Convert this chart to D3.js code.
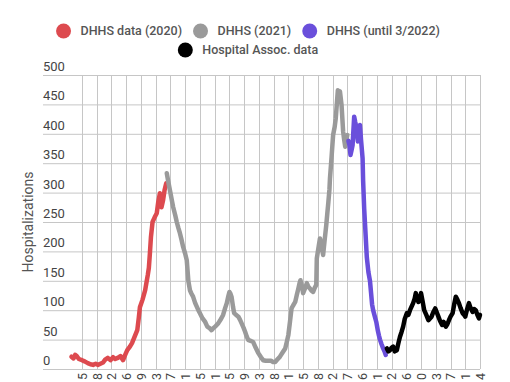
<!DOCTYPE html>
<html>
<head>
<meta charset="utf-8">
<script src="https://cdn.jsdelivr.net/npm/d3@7"></script>
<style>
  html, body { margin: 0; padding: 0; background: #fff; }
  svg { display: block; font-family: Roboto, "Noto Sans", sans-serif; }
</style>
</head>
<body>
<svg id="chart" width="510" height="382"></svg>
<script>
// ---- data (x = day offset from first axis tick, y = hospitalizations) ----
const seriesNames = ["DHHS data (2020)", "DHHS (2021)", "DHHS (until 3/2022)", "Hospital Assoc. data"];
const seriesColors = ["#dd4a4f", "#9a9a9a", "#6a4fdb", "#000000"];

const dhhs2020 = [
  [-20,21],[-16,18],[-13,24],[-10,22],[-6,17],[0,15],[5,13],[11,10],[16,8],[21,7],[26,9],[30,7],
  [35,9],[40,11],[44,16],[49,19],[54,15],[59,20],[63,17],[68,19],[73,22],[78,15],
  [82,24],[86,32],[91,38],[95,44],[100,55],[105,66],[108,88],[110,105],[115,118],[120,134],
  [123,150],[125,160],[127,172],[129,197],[131,225],[134,250],[138,258],[142,265],[145,285],
  [148,299],[151,275],[154,287],[157,305],[160,316]
];
const dhhs2021 = [
  [161,333],[164,318],[167,304],[170,290],[173,276],[177,262],[180,250],[183,240],[186,231],
  [189,220],[192,208],[196,196],[199,185],[202,150],[205,134],[208,128],[211,123],[215,112],
  [218,106],[221,100],[224,95],[229,86],[234,80],[238,72],[243,69],[246,66],[249,69],
  [254,73],[259,78],[264,85],[268,92],[272,104],[275,112],[278,124],[280,131],[282,128],
  [284,123],[287,105],[289,95],[293,92],[297,89],[300,84],[303,78],[307,70],[310,63],
  [313,55],[316,49],[320,48],[325,46],[330,36],[335,27],[340,20],[344,15],[349,14],
  [354,14],[359,14],[363,12],[367,12],[371,16],[376,21],[381,28],[386,35],[389,46],
  [392,58],[395,80],[398,103],[401,108],[405,114],[408,126],[411,137],[413,145],[415,151],
  [418,140],[420,129],[424,138],[427,146],[430,140],[433,137],[436,133],[439,131],[442,138],
  [445,143],[446,188],[449,205],[452,222],[455,208],[458,194],[461,220],[464,245],[466,265],
  [468,284],[470,305],[471,324],[474,360],[477,398],[480,412],[482,426],[484,450],[486,474],
  [488,470],[490,472],[493,449],[496,404],[498,390],[500,378],[502,390],[504,398]
];
const dhhs2022 = [
  [506,388],[508,381],[510,364],[512,372],[514,381],[517,429],[519,420],[521,412],[524,387],
  [526,400],[528,415],[530,390],[533,358],[534,320],[536,273],[538,240],[541,190],[544,165],
  [547,150],[549,130],[551,110],[553,100],[556,90],[559,80],[562,65],[564,57],[566,50],
  [569,42],[572,35],[575,29],[577,24]
];
const hospitalAssoc = [
  [579,35],[582,30],[585,32],[588,36],[591,38],[594,30],[598,32],[601,44],[604,55],[607,63],
  [610,72],[613,85],[617,95],[620,92],[623,100],[626,106],[629,112],[632,120],[634,129],
  [636,122],[639,114],[642,120],[644,129],[647,115],[650,100],[654,92],[658,83],[661,86],
  [664,89],[667,96],[671,103],[674,96],[677,89],[680,82],[684,75],[687,80],[691,72],
  [694,76],[697,83],[700,89],[704,95],[707,110],[710,123],[713,118],[716,112],[719,104],
  [723,95],[726,92],[728,89],[731,100],[735,112],[738,104],[742,97],[745,102],[748,100],
  [751,92],[754,86],[756,92]
];
const allSeries = [dhhs2020, dhhs2021, dhhs2022, hospitalAssoc];

const tickDays = d3.range(0, 757, 28);
const tickLabels = ["5","8","2","6","9","3","7","1","5","1","5","9","3","8",
                    "1","5","8","2","7","6","1","2","6","0","3","7","1","4"];
const yTicks = d3.range(0, 501, 50);

// ---- layout ----
const svg = d3.select("#chart");
const x = d3.scaleLinear().domain([0, 756]).range([82, 480]);
const y = d3.scaleLinear().domain([0, 500]).range([369, 75]);
const gridLeft = 43, gridRight = 480;

// horizontal gridlines + y labels
const yg = svg.append("g");
yg.selectAll("line").data(yTicks).join("line")
  .attr("x1", gridLeft).attr("x2", gridRight)
  .attr("y1", d => y(d) + 0.5).attr("y2", d => y(d) + 0.5)
  .attr("stroke", "#c6c6c6").attr("stroke-width", 1);
yg.selectAll("text").data(yTicks).join("text")
  .attr("x", gridLeft).attr("y", d => y(d) - 4)
  .attr("fill", "#444").attr("font-size", 13)
  .text(d => d);

// vertical gridlines via axis
const xAxis = d3.axisBottom(x).tickValues(tickDays)
  .tickFormat((d, i) => tickLabels[i]).tickSize(0).tickPadding(0);
const xg = svg.append("g").attr("transform", "translate(0,369)").call(xAxis);
xg.select(".domain").remove();
xg.selectAll(".tick line").remove();
xg.selectAll(".tick text")
  .attr("transform", "rotate(-90)")
  .attr("x", -4).attr("y", 0).attr("dy", "0.35em")
  .attr("text-anchor", "end")
  .attr("fill", "#444").attr("font-size", 12.5).attr("font-family", "Roboto, sans-serif");
svg.insert("g", ":first-child").selectAll("line").data(tickDays).join("line")
  .attr("x1", d => Math.round(x(d)) + 0.5).attr("x2", d => Math.round(x(d)) + 0.5)
  .attr("y1", 75).attr("y2", 369)
  .attr("stroke", "#c6c6c6").attr("stroke-width", 1);

// y-axis title
svg.append("text")
  .attr("transform", "translate(33,222) rotate(-90)")
  .attr("text-anchor", "middle")
  .attr("fill", "#555").attr("font-size", 14)
  .text("Hospitalizations");

// lines
const line = d3.line().x(d => x(d[0])).y(d => y(d[1])).curve(d3.curveLinear);
svg.append("g").selectAll("path").data(allSeries).join("path")
  .attr("d", line)
  .attr("fill", "none")
  .attr("stroke", (d, i) => seriesColors[i])
  .attr("stroke-width", 4.5)
  .attr("stroke-linejoin", "round")
  .attr("stroke-linecap", "round");

// legend
const legend = svg.append("g");
const rows = [[0, 1, 2], [3]];
const rowY = [31, 50];
const cx = 248;
rows.forEach((row, ri) => {
  const g = legend.append("g");
  let cur = 0;
  row.forEach(si => {
    const item = g.append("g").attr("transform", `translate(${cur},0)`);
    item.append("circle").attr("cx", 7.5).attr("cy", rowY[ri]).attr("r", 7.5).attr("fill", seriesColors[si]);
    const t = item.append("text").attr("x", 24.5).attr("y", rowY[ri]).attr("dy", "0.35em")
      .attr("fill", "#555").attr("font-size", 12.5).attr("font-weight", 500)
      .text(seriesNames[si]);
    cur += 24.5 + t.node().getComputedTextLength() + 11;
  });
  const w = cur - 11;
  g.attr("transform", `translate(${cx - w / 2},0)`);
});
</script>
</body>
</html>
